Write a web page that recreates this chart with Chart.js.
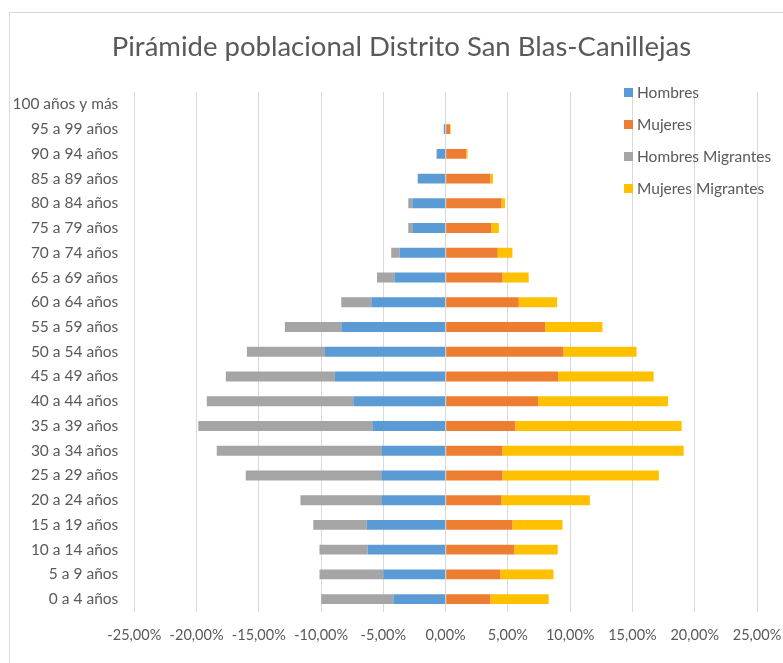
<!DOCTYPE html>
<html>
<head>
<meta charset="utf-8">
<script src="https://cdn.jsdelivr.net/npm/chart.js@4.4.1/dist/chart.umd.min.js"></script>
<style>
html,body{margin:0;padding:0;background:#fff;overflow:hidden;}
#wrap{position:relative;width:783px;height:663px;}
</style>
</head>
<body>
<div id="wrap"><canvas id="c"></canvas></div>
<script>
const chartTitle = 'Pirámide poblacional Distrito San Blas-Canillejas';
const categories = ['100 años y más','95 a 99 años','90 a 94 años','85 a 89 años','80 a 84 años','75 a 79 años','70 a 74 años','65 a 69 años','60 a 64 años','55 a 59 años','50 a 54 años','45 a 49 años','40 a 44 años','35 a 39 años','30 a 34 años','25 a 29 años','20 a 24 años','15 a 19 años','10 a 14 años','5 a 9 años','0 a 4 años'];
const seriesNames = ['Hombres','Mujeres','Hombres Migrantes','Mujeres Migrantes'];
const hombres = [0, -0.13, -0.69, -2.22, -2.68, -2.68, -3.70, -4.12, -5.97, -8.38, -9.69, -8.89, -7.42, -5.89, -5.17, -5.17, -5.17, -6.35, -6.27, -5.01, -4.20];
const mujeres = [0, 0.35, 1.66, 3.59, 4.48, 3.67, 4.18, 4.56, 5.87, 8.01, 9.46, 9.03, 7.43, 5.60, 4.56, 4.56, 4.48, 5.36, 5.52, 4.40, 3.59];
const hombresMigrantes = [0, -0.03, -0.05, -0.03, -0.32, -0.32, -0.67, -1.39, -2.41, -4.53, -6.27, -8.76, -11.76, -13.97, -13.21, -10.88, -6.49, -4.28, -3.86, -5.12, -5.79];
const mujeresMigrantes = [0, 0.05, 0.10, 0.21, 0.29, 0.60, 1.18, 2.11, 3.08, 4.58, 5.87, 7.67, 10.42, 13.35, 14.55, 12.56, 7.10, 4.02, 3.48, 4.26, 4.69];
const xTicks = [-25, -20, -15, -10, -5, 0, 5, 10, 15, 20, 25];

const colors = ['#5B9BD5', '#ED7D31', '#A5A5A5', '#FFC000'];
const textColor = '#595959';
const fontFamily = 'Lato, "Open Sans", sans-serif';

const decorPlugin = {
  id: 'decor',
  beforeDraw(chart) {
    const ctx = chart.ctx;
    ctx.save();
    ctx.fillStyle = '#fff';
    ctx.fillRect(0, 0, chart.width, chart.height);
    ctx.strokeStyle = '#d9d9d9';
    ctx.lineWidth = 1;
    ctx.strokeRect(9.5, 12.5, 800, 700);
    ctx.restore();
  },
  afterDraw(chart) {
    const ctx = chart.ctx;
    ctx.save();
    ctx.fillStyle = textColor;
    ctx.font = '27.5px ' + fontFamily;
    ctx.textAlign = 'center';
    ctx.textBaseline = 'middle';
    ctx.fillText(chartTitle, 401.5, 47);
    ctx.font = '15.5px ' + fontFamily;
    ctx.textAlign = 'left';
    chart.data.datasets.forEach((ds, i) => {
      const y = 93 + i * 32;
      ctx.fillStyle = ds.backgroundColor;
      ctx.fillRect(624, y - 5, 9, 9);
      ctx.fillStyle = textColor;
      ctx.fillText(ds.label, 637, y);
    });
    ctx.restore();
  }
};

const fmt = v => Number(v).toFixed(2).replace('.', ',') + '%';

new Chart(document.getElementById('c'), {
  type: 'bar',
  data: {
    labels: categories,
    datasets: [
      { label: seriesNames[0], data: hombres, backgroundColor: colors[0] },
      { label: seriesNames[1], data: mujeres, backgroundColor: colors[1] },
      { label: seriesNames[2], data: hombresMigrantes, backgroundColor: colors[2] },
      { label: seriesNames[3], data: mujeresMigrantes, backgroundColor: colors[3] }
    ]
  },
  options: {
    indexAxis: 'y',
    responsive: true,
    maintainAspectRatio: false,
    animation: false,
    datasets: { bar: { categoryPercentage: 1, barPercentage: 0.4, borderWidth: 0 } },
    layout: { padding: { left: 0, right: 26, top: 92, bottom: 0 } },
    plugins: {
      legend: { display: false },
      title: { display: false },
      tooltip: { enabled: false }
    },
    scales: {
      x: {
        stacked: true,
        min: -25,
        max: 25,
        afterBuildTicks: s => { s.ticks = xTicks.map(v => ({ value: v })); },
        afterFit: s => { s.height = 51.5; s.paddingLeft = 0; s.paddingRight = 0; },
        grid: { color: '#d9d9d9', lineWidth: 1, drawTicks: false },
        border: { display: false },
        ticks: {
          color: textColor,
          font: { family: fontFamily, size: 14.5 },
          padding: 15,
          maxRotation: 0,
          autoSkip: false,
          callback: v => fmt(v)
        }
      },
      y: {
        stacked: true,
        afterFit: s => { s.width = 134.3; s.paddingTop = 0; s.paddingBottom = 0; },
        grid: { display: false, drawTicks: false },
        border: { display: false },
        ticks: {
          color: textColor,
          font: { family: fontFamily, size: 15.5 },
          padding: 16,
          autoSkip: false
        }
      }
    }
  },
  plugins: [decorPlugin]
});
</script>
</body>
</html>
